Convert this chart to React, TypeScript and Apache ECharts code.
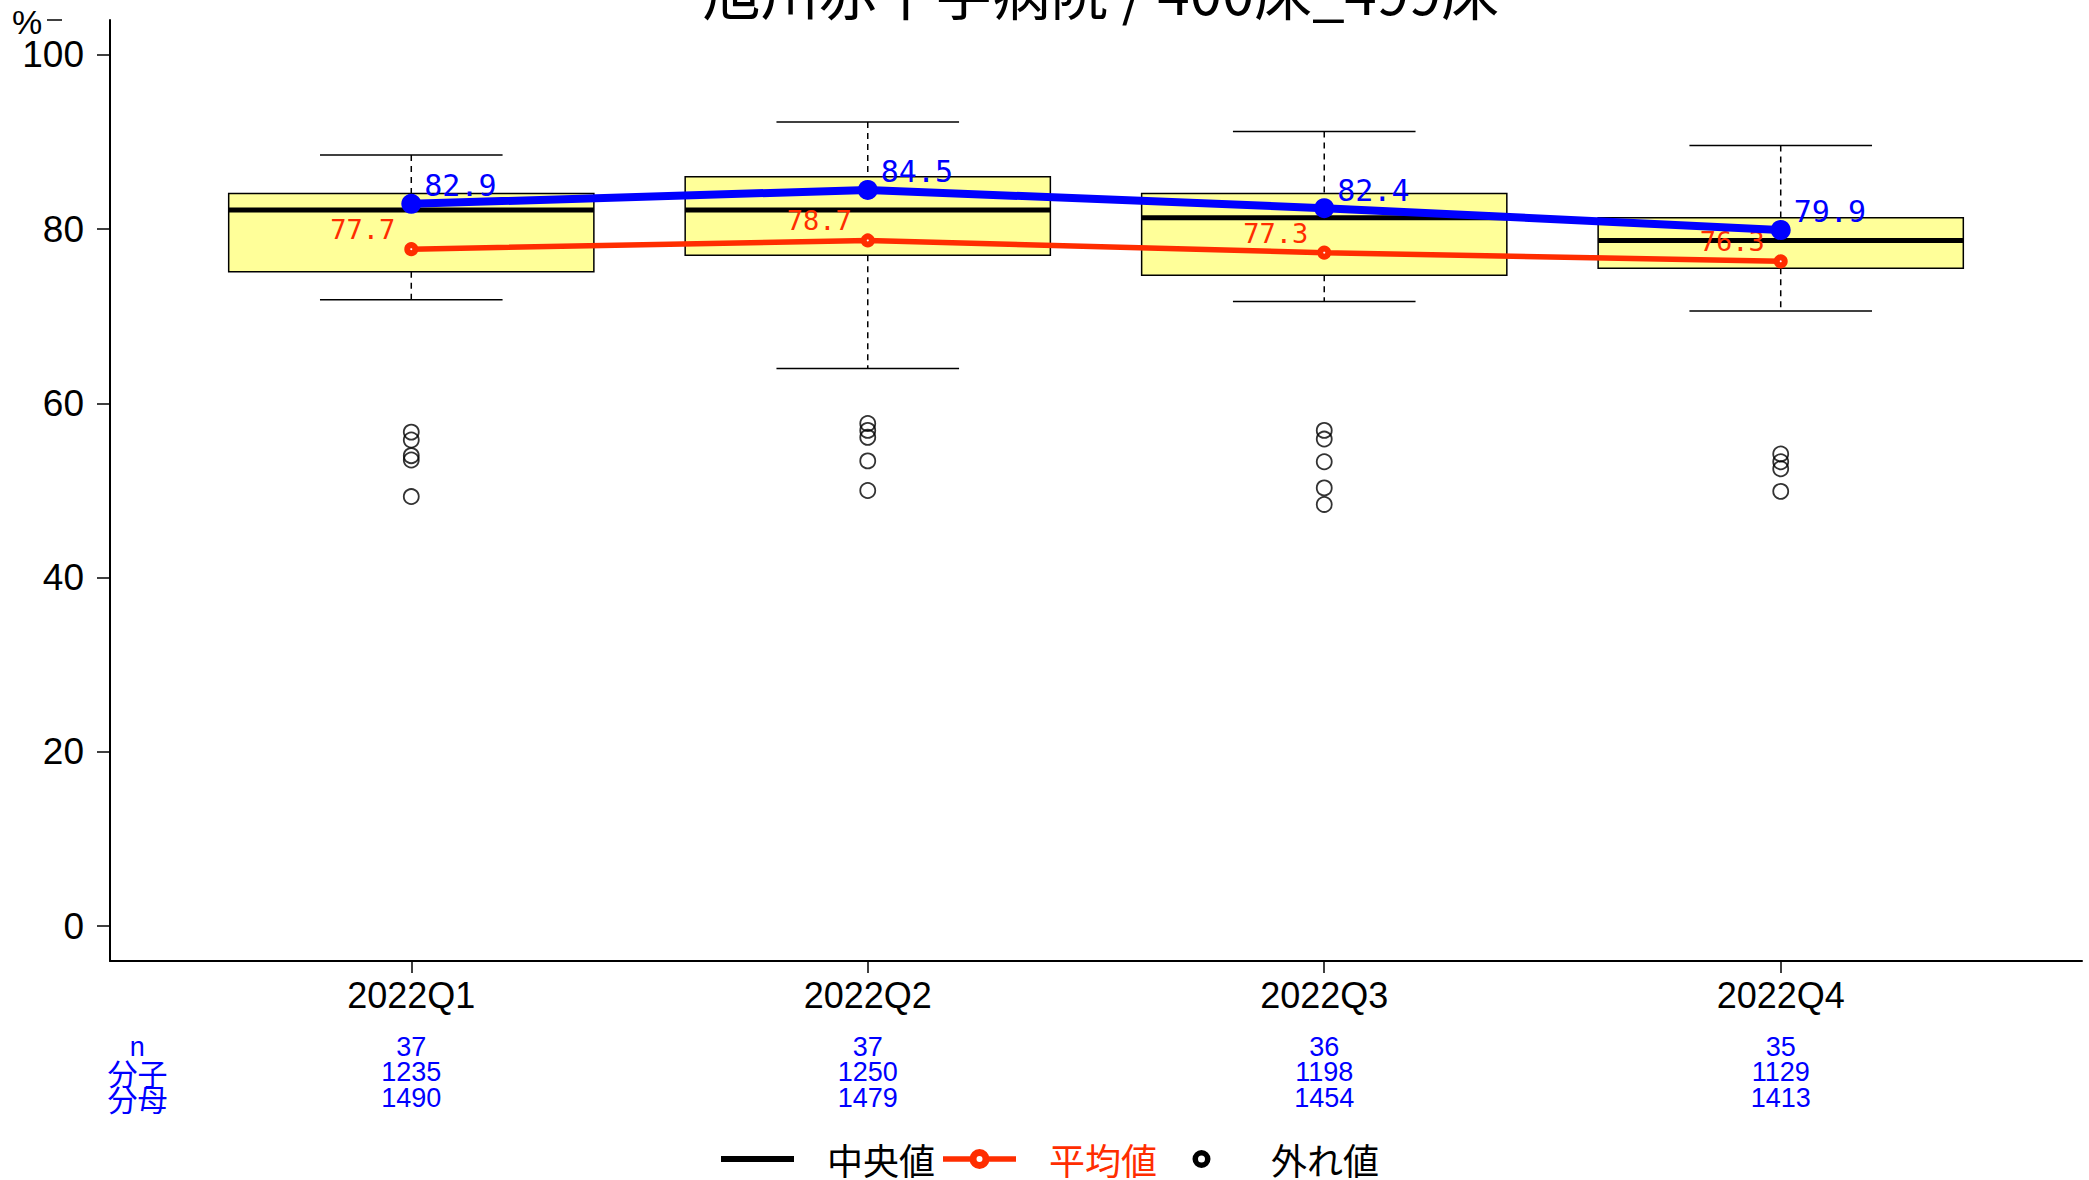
import React, { useEffect, useRef } from "react";
import * as echarts from "echarts";

const categories = ["2022Q1", "2022Q2", "2022Q3", "2022Q4"];
const whiskerLow = [71.9, 64.0, 71.7, 70.6];
const boxQ1 = [75.1, 77.0, 74.7, 75.5];
const boxMedian = [82.2, 82.2, 81.3, 78.7];
const boxQ3 = [84.1, 86.0, 84.1, 81.3];
const whiskerHigh = [88.5, 92.3, 91.2, 89.6];
const meanValues = [77.7, 78.7, 77.3, 76.3];
const hospitalValues = [82.9, 84.5, 82.4, 79.9];
const outliersQ1 = [56.7, 55.8, 54.0, 53.5, 49.3];
const outliersQ2 = [57.7, 56.9, 56.1, 53.4, 50.0];
const outliersQ3 = [56.9, 55.9, 53.3, 50.3, 48.4];
const outliersQ4 = [54.2, 53.3, 52.5, 49.9];
const nCounts = [37, 37, 36, 35];
const numerators = [1235, 1250, 1198, 1129];
const denominators = [1490, 1479, 1454, 1413];
const yTicks = [0, 20, 40, 60, 80, 100];
const tableRowLabels = ["n", "分子", "分母"];
const titleText = "旭川赤十字病院 / 400床_499床";

const BLUE = "#0000FF";
const RED = "#FF2D00";
const SANS = "'Liberation Sans', Arial, sans-serif";
const CJK = "'Noto Sans CJK JP', 'Liberation Sans', sans-serif";
const MONO = "'DejaVu Sans Mono', monospace";

const FRAME = "M0,0 L0,0 Z M73,20 L73,20 Z ";
const ICON_MEDIAN = "path://" + FRAME + "M0,7 L73,7 L73,13 L0,13 Z";
const ICON_MEAN =
  "path://" +
  FRAME +
  "M0,7.2 L28,7.2 L28,12.8 L0,12.8 Z M45,7.2 L73,7.2 L73,12.8 L45,12.8 Z " +
  "M36.5,0 A10,10 0 1,1 36.5,20 A10,10 0 1,1 36.5,0 Z " +
  "M36.5,7 A3,3 0 1,0 36.5,13 A3,3 0 1,0 36.5,7 Z";
const ICON_OUTLIER =
  "path://" +
  FRAME +
  "M36.5,1 A9,9 0 1,1 36.5,19 A9,9 0 1,1 36.5,1 Z " +
  "M36.5,6.5 A3.5,3.5 0 1,0 36.5,13.5 A3.5,3.5 0 1,0 36.5,6.5 Z";

export default function App() {
  const ref = useRef<HTMLDivElement>(null);
  useEffect(() => {
    if (!ref.current) return;
    document.body.style.margin = "0";
    const chart = echarts.init(ref.current, null, { renderer: "svg" });
    const xs = categories.map((_, i) => i + 1);
    const boxData = xs.map((x, i) => [x, whiskerLow[i], boxQ1[i], boxMedian[i], boxQ3[i], whiskerHigh[i]]);
    const outlierGroups = [outliersQ1, outliersQ2, outliersQ3, outliersQ4];
    const outlierData: number[][] = [];
    outlierGroups.forEach((g, i) => g.forEach((v) => outlierData.push([i + 1, v])));
    const tableLabelX = 0.4;

    const option: any = {
      animation: false,
      textStyle: { fontFamily: SANS },
      title: {
        text: titleText,
        left: 1096,
        top: -44,
        textAlign: "center",
        textStyle: { fontSize: 58, fontWeight: "normal", fontFamily: CJK, color: "#000" },
      },
      graphic: [
        { type: "text", left: 12, top: 5, style: { text: "%", fontSize: 34, fontFamily: SANS, fill: "#000" } },
        { type: "line", shape: { x1: 47, y1: 20, x2: 62, y2: 20 }, style: { stroke: "#000", lineWidth: 1.5 } },
      ],
      legend: {
        left: 721,
        top: 1141,
        padding: 0,
        itemWidth: 73,
        itemHeight: 20,
        itemGap: 8,
        selectedMode: false,
        textStyle: { fontSize: 36, lineHeight: 36, fontFamily: CJK, color: "#000", padding: [0, 0, 0, 28] },
        data: [
          { name: "中央値", icon: ICON_MEDIAN, itemStyle: { color: "#000", borderWidth: 0 } },
          { name: "平均値", icon: ICON_MEAN, itemStyle: { color: RED, borderWidth: 0 }, textStyle: { color: RED } },
          { name: "外れ値", icon: ICON_OUTLIER, itemStyle: { color: "#000", borderWidth: 0 } },
        ],
      },
      grid: { left: 110, right: 7, top: 20, bottom: 219, outerBoundsMode: "none" },
      xAxis: [
        {
          type: "value",
          min: 0.34,
          max: 4.66,
          axisLine: { show: true, onZero: false, lineStyle: { color: "#000", width: 2 } },
          axisTick: { show: true, customValues: xs, length: 12, lineStyle: { color: "#000", width: 1.5 } },
          axisLabel: {
            customValues: xs,
            formatter: (v: number) => categories[Math.round(v) - 1] ?? "",
            fontSize: 36,
            color: "#000",
            margin: 16,
            fontFamily: SANS,
          },
          splitLine: { show: false },
        },
        {
          type: "value",
          min: 0.34,
          max: 4.66,
          position: "bottom",
          axisLine: { show: false, onZero: false },
          axisTick: { show: false },
          splitLine: { show: false },
          axisLabel: {
            customValues: [tableLabelX, ...xs],
            margin: 73,
            color: BLUE,
            lineHeight: 25.5,
            fontSize: 27,
            formatter: (v: number) => {
              if (v < 0.9) return tableRowLabels.map((t, k) => (k === 0 ? `{n|${t}}` : `{c|${t}}`)).join("\n");
              const i = Math.round(v) - 1;
              return [nCounts[i], numerators[i], denominators[i]].map((t) => `{n|${t}}`).join("\n");
            },
            rich: {
              n: { fontSize: 27, color: BLUE, lineHeight: 25.5, fontFamily: SANS },
              c: { fontSize: 30, color: BLUE, lineHeight: 25.5, fontFamily: CJK },
            },
          },
        },
      ],
      yAxis: {
        type: "value",
        min: -4,
        max: 104,
        axisLine: { show: true, onZero: false, lineStyle: { color: "#000", width: 2 } },
        axisTick: { show: true, customValues: yTicks, length: 13, lineStyle: { color: "#000", width: 1.5 } },
        axisLabel: { customValues: yTicks, fontSize: 37, color: "#000", margin: 26, fontFamily: SANS },
        splitLine: { show: false },
      },
      series: [
        {
          type: "custom",
          name: "box",
          xAxisIndex: 0,
          data: boxData,
          encode: { x: 0, y: [1, 2, 3, 4, 5] },
          z: 1,
          renderItem: (params: any, api: any) => {
            const x = api.value(0);
            const pLow = api.coord([x, api.value(1)]);
            const pQ1 = api.coord([x, api.value(2)]);
            const pMed = api.coord([x, api.value(3)]);
            const pQ3 = api.coord([x, api.value(4)]);
            const pHigh = api.coord([x, api.value(5)]);
            const half = api.size([0.8, 0])[0] / 2;
            const capHalf = api.size([0.4, 0])[0] / 2;
            const cx = pMed[0];
            const dash = { stroke: "#000", lineWidth: 1.5, lineDash: [6, 5] };
            const solid = { stroke: "#000", lineWidth: 1.5 };
            return {
              type: "group",
              children: [
                { type: "line", shape: { x1: cx, y1: pHigh[1], x2: cx, y2: pQ3[1] }, style: dash },
                { type: "line", shape: { x1: cx, y1: pQ1[1], x2: cx, y2: pLow[1] }, style: dash },
                { type: "line", shape: { x1: cx - capHalf, y1: pHigh[1], x2: cx + capHalf, y2: pHigh[1] }, style: solid },
                { type: "line", shape: { x1: cx - capHalf, y1: pLow[1], x2: cx + capHalf, y2: pLow[1] }, style: solid },
                {
                  type: "rect",
                  shape: { x: cx - half, y: pQ3[1], width: half * 2, height: pQ1[1] - pQ3[1] },
                  style: { fill: "#FFFF99", stroke: "#000", lineWidth: 1.5 },
                },
                { type: "line", shape: { x1: cx - half, y1: pMed[1], x2: cx + half, y2: pMed[1] }, style: { stroke: "#000", lineWidth: 5 } },
              ],
            };
          },
        },
        {
          type: "line",
          name: "中央値",
          data: [],
          symbol: "none",
          lineStyle: { color: "#000", width: 6 },
          itemStyle: { color: "#000" },
        },
        {
          type: "line",
          name: "外れ値",
          data: [],
          symbol: "none",
          lineStyle: { color: "#000", width: 0 },
          itemStyle: { color: "#000" },
        },
        {
          type: "scatter",
          name: "外れ値",
          data: outlierData,
          symbol: "circle",
          symbolSize: 15,
          itemStyle: { color: "rgba(0,0,0,0)", borderColor: "#000", borderWidth: 1.8 },
          z: 2,
        },
        {
          type: "line",
          name: "平均値",
          data: xs.map((x, i) => [x, meanValues[i]]),
          symbol: "circle",
          symbolSize: 8,
          lineStyle: { color: RED, width: 5.5 },
          itemStyle: { color: "#FFFFFF", borderColor: RED, borderWidth: 6 },
          z: 3,
          label: {
            show: true,
            position: [-9, 1],
            align: "right",
            verticalAlign: "bottom",
            fontSize: 27,
            fontFamily: MONO,
            color: RED,
            formatter: (p: any) => p.value[1].toFixed(1),
          },
        },
        {
          type: "line",
          name: "当院",
          data: xs.map((x, i) => [x, hospitalValues[i]]),
          symbol: "circle",
          symbolSize: 20,
          lineStyle: { color: BLUE, width: 8 },
          itemStyle: { color: BLUE },
          z: 4,
          label: {
            show: true,
            position: [23, 7],
            align: "left",
            verticalAlign: "bottom",
            fontSize: 30,
            fontFamily: MONO,
            color: BLUE,
            formatter: (p: any) => p.value[1].toFixed(1),
          },
        },
      ],
    };
    chart.setOption(option);
    return () => chart.dispose();
  }, []);
  return <div ref={ref} style={{ width: 2089, height: 1180 }} />;
}
